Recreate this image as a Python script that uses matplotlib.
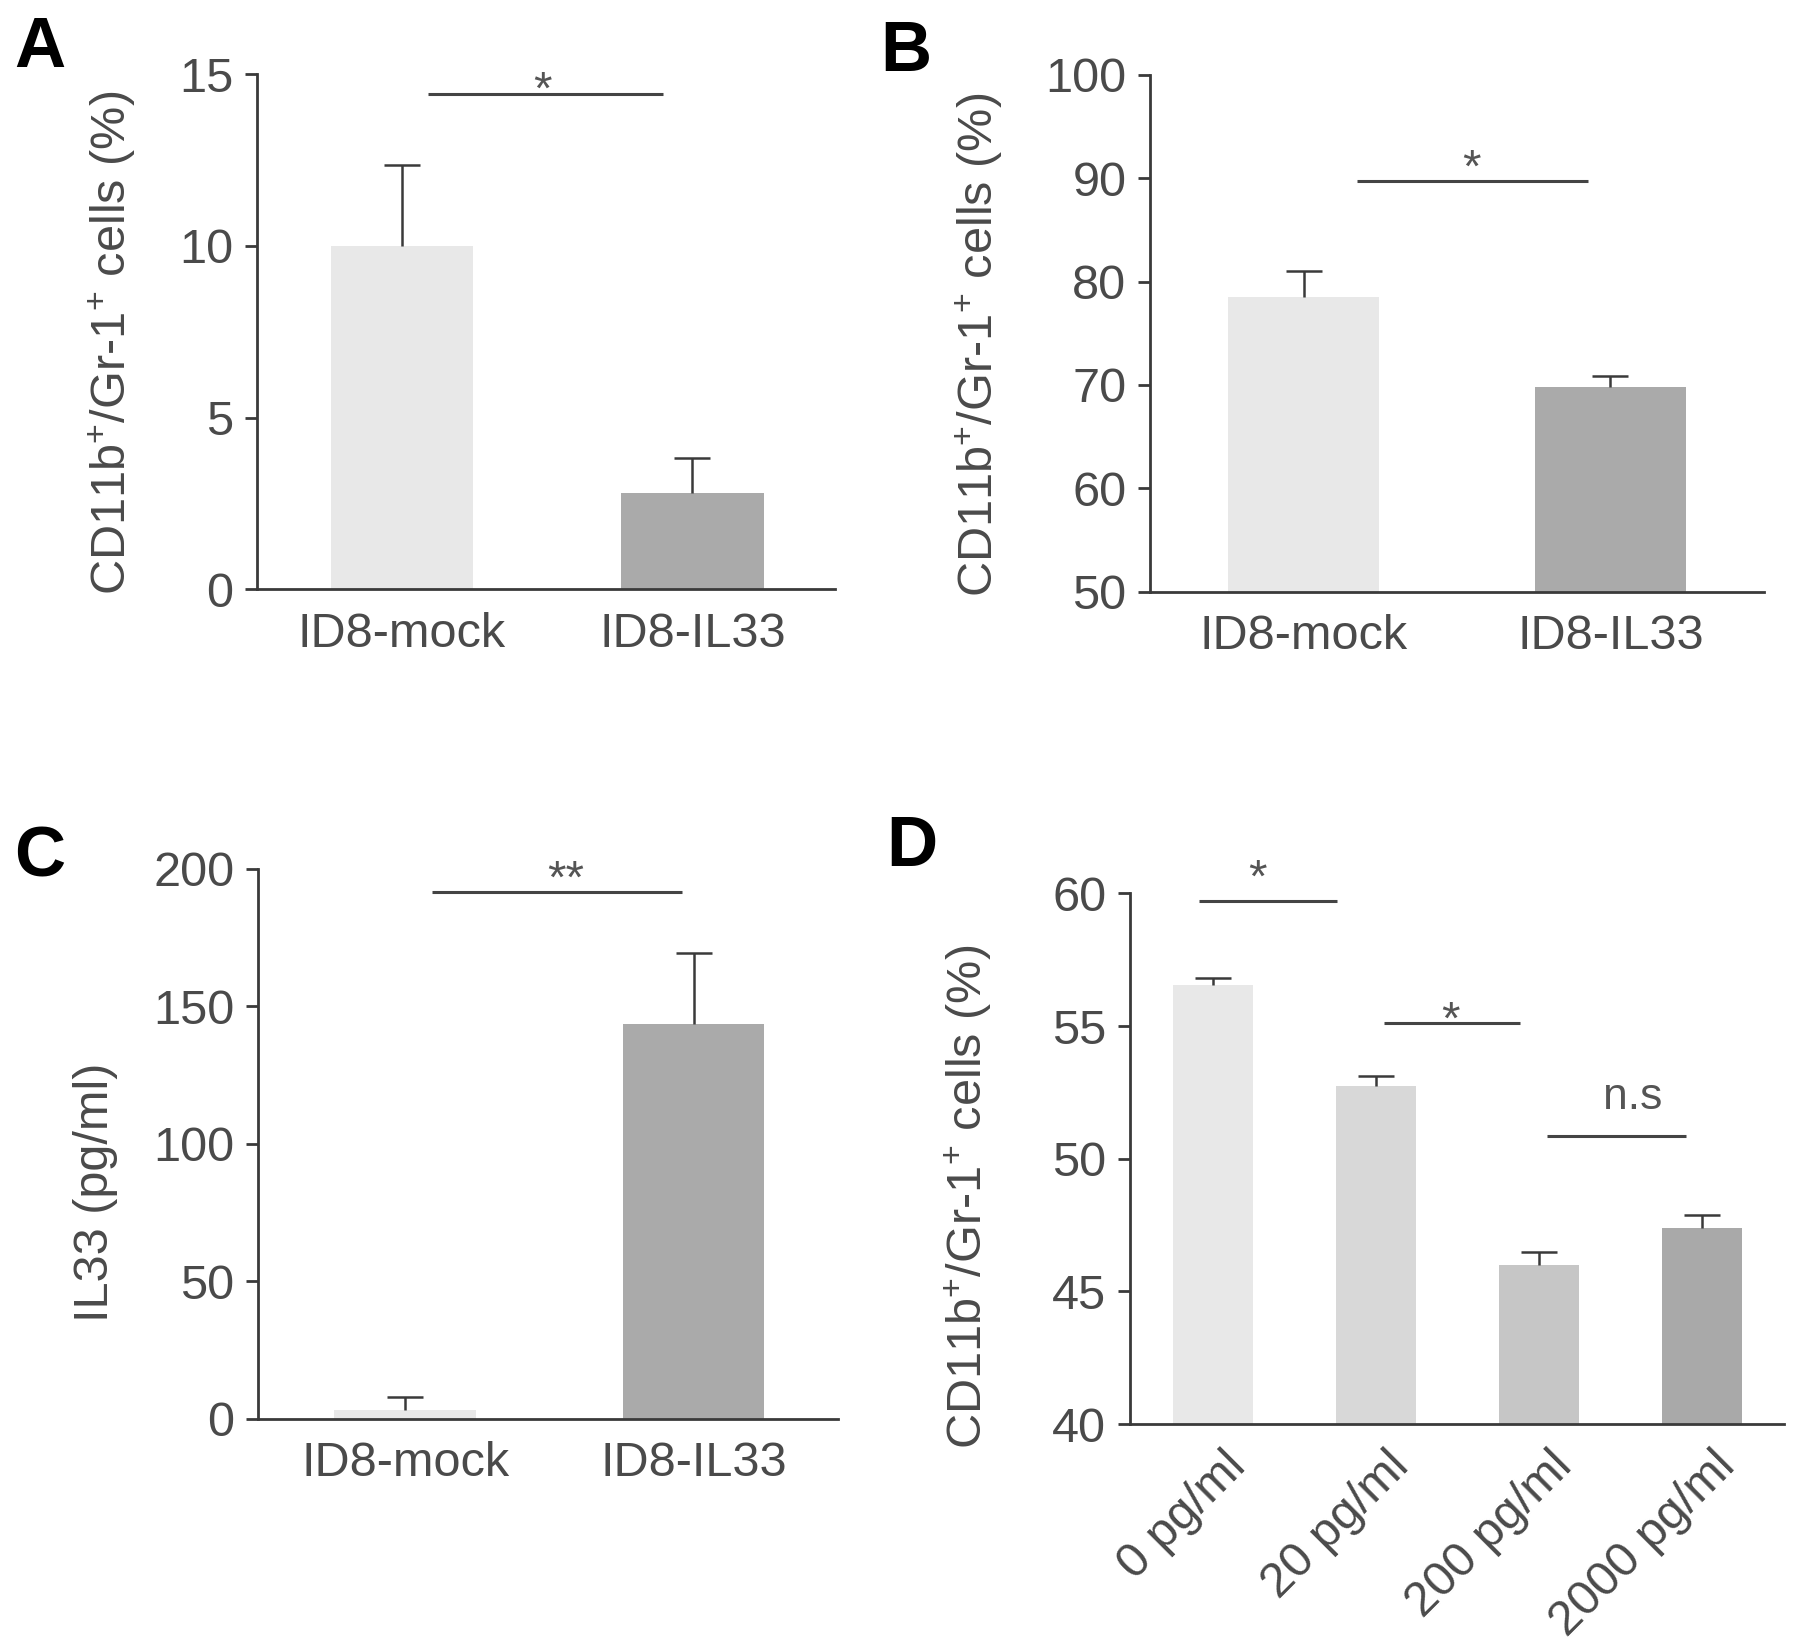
import numpy as np
import matplotlib.pyplot as plt
from matplotlib.transforms import ScaledTranslation

plt.rcParams['font.family'] = ['Liberation Sans', 'DejaVu Sans']
plt.rcParams['mathtext.fontset'] = 'custom'
plt.rcParams['mathtext.rm'] = 'Liberation Sans'
plt.rcParams['mathtext.it'] = 'Liberation Sans:italic'
plt.rcParams['mathtext.bf'] = 'Liberation Sans:bold'

# values (mean and upper SEM)
groups = ['ID8-mock', 'ID8-IL33']
mdsc_a = [10.0, 2.8]
mdsc_a_sem = [2.36, 1.02]
mdsc_b = [78.5, 69.8]
mdsc_b_sem = [2.5, 1.1]
il33_c = [3.2, 143.4]
il33_c_sem = [4.9, 26.1]
doses = ['0 pg/ml', '20 pg/ml', '200 pg/ml', '2000 pg/ml']
mdsc_d = [56.55, 52.74, 46.01, 47.38]
mdsc_d_sem = [0.25, 0.38, 0.49, 0.49]

ylab = r'CD11b$^{+}$/Gr-1$^{+}$ cells (%)'
FS = 35
TXT = '#4a4a4a'
AXC = '#3a3a3a'

fig = plt.figure(figsize=(17.95, 16.51), dpi=100)


def bar_panel(rect, vals, errs, labels, colors, ylim, yticks, ylabel, lab_xy, xlim):
    ax = fig.add_axes(rect)
    x = np.arange(len(vals))
    ax.bar(x, vals, width=0.49, color=colors, zorder=2)
    eb = ax.errorbar(x, vals, yerr=[np.zeros(len(vals)), errs], fmt='none',
                     ecolor=AXC, elinewidth=1.8, capsize=13, capthick=1.8, zorder=3)
    eb[1][0].set_visible(False)
    ax.set_xlim(xlim)
    ax.set_ylim(ylim)
    ax.set_yticks(yticks)
    ax.set_xticks(x)
    ax.set_xticklabels(labels)
    for s in ['top', 'right']:
        ax.spines[s].set_visible(False)
    for s in ['left', 'bottom']:
        ax.spines[s].set_linewidth(2)
        ax.spines[s].set_color(AXC)
    ax.tick_params(axis='y', length=9, width=2, color=AXC, pad=8,
                   labelsize=FS, labelcolor=TXT)
    ax.tick_params(axis='x', length=0, pad=16, labelsize=FS, labelcolor=TXT)
    ax.set_ylabel(ylabel, fontsize=FS, color=TXT)
    ax.yaxis.set_label_coords(*lab_xy)
    return ax


def sig(ax, x1, x2, y, text, tx, dy, size=34):
    ax.plot([x1, x2], [y, y], color='#444444', lw=2.2, clip_on=False,
            solid_capstyle='butt', zorder=4)
    ax.annotate(text, (tx, y), xytext=(0, dy), textcoords='offset points',
                ha='center', va='baseline', fontsize=size, color='#555555',
                annotation_clip=False)


# A
axA = bar_panel([0.143, 0.643, 0.322, 0.312], mdsc_a, mdsc_a_sem, groups,
                ['#e8e8e8', '#aaaaaa'], (0, 15), [0, 5, 10, 15], ylab,
                (-0.205, 0.479), (-0.5, 1.49))
sig(axA, 0.09, 0.90, 14.42, '*', 0.485, -6.5)

# B
axB = bar_panel([0.6407, 0.6417, 0.342, 0.3129], mdsc_b, mdsc_b_sem, groups,
                ['#e8e8e8', '#aaaaaa'], (50, 100), [50, 60, 70, 80, 90, 100], ylab,
                (-0.236, 0.478), (-0.5, 1.5))
sig(axB, 0.174, 0.926, 89.7, '*', 0.548, 0)

# C
axC = bar_panel([0.1437, 0.1406, 0.3231, 0.3332], il33_c, il33_c_sem, groups,
                ['#e8e8e8', '#aaaaaa'], (0, 200), [0, 50, 100, 150, 200],
                'IL33 (pg/ml)', (-0.241, 0.412), (-0.51, 1.5))
sig(axC, 0.094, 0.96, 191.4, '**', 0.556, 0)

# D
axD = bar_panel([0.6295, 0.1374, 0.3641, 0.3215], mdsc_d, mdsc_d_sem, doses,
                ['#e8e8e8', '#d8d8d8', '#c6c6c6', '#a9a9a9'], (40, 60),
                [40, 45, 50, 55, 60], ylab, (-0.208, 0.429), (-0.51, 3.5))
axD.tick_params(axis='x', pad=0)
off = ScaledTranslation(7 / 72, -14 / 72, fig.dpi_scale_trans)
for t in axD.get_xticklabels():
    t.set_rotation(45)
    t.set_ha('right')
    t.set_va('top')
    t.set_rotation_mode('anchor')
    t.set_transform(t.get_transform() + off)
sig(axD, -0.088, 0.758, 59.73, '*', 0.27, 6.5)
sig(axD, 1.047, 1.886, 55.11, '*', 1.457, -7.5)
sig(axD, 2.046, 2.904, 50.85, 'n.s', 2.574, 19.4, size=32)

# panel letters
for lx, ly, letter in [(0.0078, 0.9906, 'A'), (0.4903, 0.9879, 'B'),
                       (0.0078, 0.4997, 'C'), (0.494, 0.5063, 'D')]:
    fig.text(lx, ly, letter, fontsize=51, fontweight='bold', color='black',
             ha='left', va='top')

fig.savefig('out.png', dpi=100)
